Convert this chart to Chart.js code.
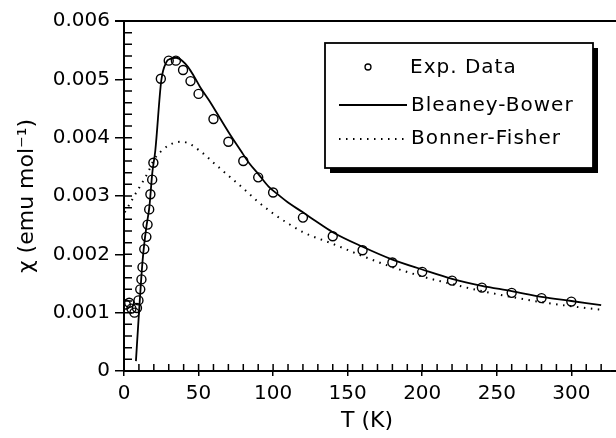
<!DOCTYPE html>
<html>
<head>
<meta charset="utf-8">
<script src="https://cdn.jsdelivr.net/npm/chart.js@4.4.1/dist/chart.umd.min.js"></script>
<style>
  html, body { margin: 0; padding: 0; background: #fff; }
  #wrap { width: 616px; height: 438px; }
</style>
</head>
<body>
<div id="wrap"><canvas id="chart" width="616" height="438"></canvas></div>
<script>
// measured points (T in K, chi in emu/mol)
const expT = [1.2, 3.5, 5.0, 7.0, 8.7, 9.7, 10.9, 11.7, 12.4, 13.6, 15.0, 15.8, 16.9, 17.7, 18.9, 19.7,
  24.7, 30, 34.8, 39.6, 44.6, 50, 60, 70, 80, 90, 100, 120, 140, 160, 180, 200, 220, 240, 260, 280, 300];
const expChi = [0.00114, 0.00117, 0.00107, 0.00100, 0.00108, 0.00121, 0.00140, 0.00157, 0.00178, 0.00209,
  0.00230, 0.00251, 0.00277, 0.00303, 0.00328, 0.00357, 0.00501, 0.00532, 0.00532, 0.00516, 0.00497,
  0.00475, 0.00432, 0.00393, 0.00360, 0.00332, 0.00306, 0.00263, 0.00231, 0.00207, 0.00186, 0.00170,
  0.00155, 0.00143, 0.00134, 0.00125, 0.00119];

// Bleaney-Bower fit
const bleaneyT = [8, 10, 12.5, 15, 17, 19, 21, 25, 28.5, 31, 35, 39, 43, 47, 51, 57, 64, 71, 78, 84, 90,
  97, 104, 111, 120, 128, 140, 160, 180, 200, 220, 240, 260, 280, 300, 320];
const bleaneyChi = [0.00017, 0.00098, 0.00190, 0.00247, 0.00281, 0.00340, 0.00378, 0.00498, 0.00530,
  0.00535, 0.00537, 0.00532, 0.00521, 0.00505, 0.00487, 0.00464, 0.00435, 0.00406, 0.00379, 0.00356,
  0.00338, 0.00316, 0.00301, 0.00287, 0.00272, 0.00258, 0.00238, 0.00213, 0.00191, 0.00174, 0.00158,
  0.00146, 0.00137, 0.00127, 0.00120, 0.00113];

// Bonner-Fisher fit
const bonnerT = [0.5, 4, 8, 12, 16, 20, 25, 30, 35, 39, 45, 50, 55, 60, 65, 70, 75, 80, 90, 100, 110,
  120, 140, 160, 180, 200, 220, 240, 260, 280, 300, 320];
const bonnerChi = [0.00272, 0.00287, 0.00305, 0.00322, 0.00340, 0.00362, 0.00377, 0.00387, 0.00392,
  0.00393, 0.00388, 0.00379, 0.00369, 0.00357, 0.00346, 0.00335, 0.00324, 0.00313, 0.00290, 0.00270,
  0.00253, 0.00238, 0.00218, 0.00197, 0.00178, 0.00162, 0.00149, 0.00137, 0.00127, 0.00118, 0.00111,
  0.00105];

const xTicks = [0, 50, 100, 150, 200, 250, 300];
const yTicks = [0, 0.001, 0.002, 0.003, 0.004, 0.005, 0.006];
const legendLabels = ['Exp. Data', 'Bleaney-Bower', 'Bonner-Fisher'];

function toPoints(xs, ys) {
  return xs.map((x, i) => ({ x: x, y: ys[i] }));
}

Chart.defaults.font.family = '"DejaVu Sans", sans-serif';
Chart.defaults.color = '#000';

// minor ticks, top frame line and the boxed legend
const decor = {
  id: 'decor',
  afterDraw(chart) {
    const ctx = chart.ctx;
    const a = chart.chartArea;
    const x = chart.scales.x, y = chart.scales.y;
    ctx.save();
    ctx.strokeStyle = '#000';
    ctx.lineWidth = 1.5;
    ctx.beginPath();
    for (let i = 0; i <= 30; i++) {
      const py = y.getPixelForValue(i * 0.0002);
      ctx.moveTo(a.left, py);
      ctx.lineTo(a.left + 8, py);
    }
    for (let i = 1; i <= 32; i++) {
      const px = x.getPixelForValue(i * 10);
      if (px > chart.width) break;
      ctx.moveTo(px, a.bottom);
      ctx.lineTo(px, a.bottom - 7);
    }
    ctx.stroke();

    // top frame + axis running to the edge
    ctx.lineWidth = 2;
    ctx.beginPath();
    ctx.moveTo(a.left - 9, a.top);
    ctx.lineTo(chart.width, a.top);
    ctx.moveTo(a.right, a.bottom);
    ctx.lineTo(chart.width, a.bottom);
    ctx.stroke();

    // legend box with shadow
    const bx = 325, by = 43, bw = 268, bh = 125;
    ctx.fillStyle = '#000';
    ctx.fillRect(bx + 5, by + 5, bw, bh);
    ctx.fillStyle = '#fff';
    ctx.fillRect(bx, by, bw, bh);
    ctx.lineWidth = 1.8;
    ctx.strokeRect(bx, by, bw, bh);

    // samples
    ctx.lineWidth = 1.3;
    ctx.beginPath();
    ctx.arc(368, 67, 3, 0, Math.PI * 2);
    ctx.stroke();
    ctx.lineWidth = 1.8;
    ctx.beginPath();
    ctx.moveTo(339, 105);
    ctx.lineTo(407, 105);
    ctx.stroke();
    ctx.setLineDash([1.5, 5.5]);
    ctx.beginPath();
    ctx.moveTo(339, 139);
    ctx.lineTo(407, 139);
    ctx.stroke();
    ctx.setLineDash([]);

    ctx.fillStyle = '#000';
    ctx.font = '20px "DejaVu Sans"';
    ctx.letterSpacing = '1px';
    ctx.textBaseline = 'middle';
    ctx.textAlign = 'left';
    ctx.fillText(legendLabels[0], 410, 68);
    ctx.fillText(legendLabels[1], 411, 106);
    ctx.fillText(legendLabels[2], 411, 139);
    ctx.restore();
  }
};

new Chart(document.getElementById('chart'), {
  type: 'line',
  data: {
    datasets: [{
      label: legendLabels[0],
      data: toPoints(expT, expChi),
      showLine: false,
      pointStyle: 'circle',
      pointRadius: 4.5,
      pointBorderWidth: 1.4,
      pointBorderColor: '#000',
      pointBackgroundColor: 'rgba(0,0,0,0)'
    }, {
      label: legendLabels[1],
      data: toPoints(bleaneyT, bleaneyChi),
      borderColor: '#000',
      borderWidth: 1.8,
      pointRadius: 0,
      cubicInterpolationMode: 'monotone'
    }, {
      label: legendLabels[2],
      data: toPoints(bonnerT, bonnerChi),
      borderColor: '#000',
      borderWidth: 2,
      borderDash: [1.5, 5.5],
      pointRadius: 0,
      cubicInterpolationMode: 'monotone'
    }]
  },
  options: {
    responsive: false,
    animation: false,
    layout: { padding: { top: 21, right: 1, left: 0, bottom: 0 } },
    plugins: { legend: { display: false }, tooltip: { enabled: false } },
    scales: {
      x: {
        type: 'linear',
        min: 0,
        max: 326,
        afterBuildTicks: s => { s.ticks = xTicks.map(v => ({ value: v })); },
        afterFit: s => { s.height = 67; },
        ticks: { font: { size: 20 }, color: '#000', padding: 6, maxRotation: 0, autoSkip: false },
        grid: { drawOnChartArea: false, tickLength: 5, color: '#000', lineWidth: 1.5 },
        border: { color: '#000', width: 2 },
        title: { display: true, text: 'T (K)', font: { size: 22 }, color: '#000', padding: { top: 0, bottom: 4 } }
      },
      y: {
        type: 'linear',
        min: 0,
        max: 0.006,
        afterBuildTicks: s => { s.ticks = yTicks.map(v => ({ value: v })); },
        afterFit: s => { s.width = 124; },
        ticks: {
          font: { size: 20 }, color: '#000', padding: 5,
          callback: v => v === 0 ? '0' : v.toFixed(3)
        },
        grid: { drawOnChartArea: false, tickLength: 9, color: '#000', lineWidth: 1.5 },
        border: { color: '#000', width: 2 },
        title: { display: true, text: 'χ (emu mol⁻¹)', font: { size: 22 }, color: '#000', padding: { top: 14, bottom: 0 } }
      }
    }
  },
  plugins: [decor]
});
</script>
</body>
</html>
